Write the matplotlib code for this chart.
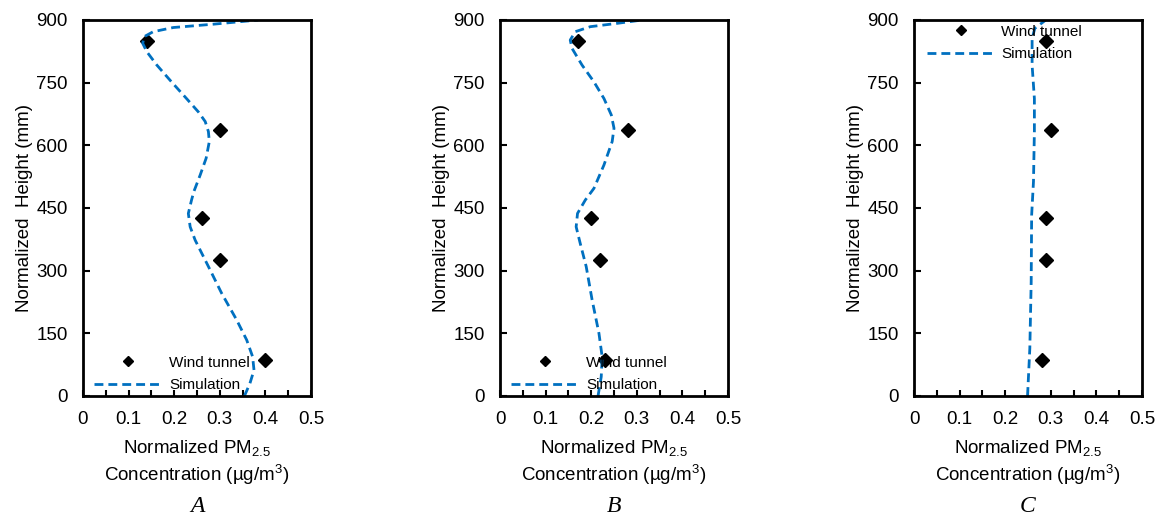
import matplotlib.pyplot as plt
from matplotlib.ticker import MultipleLocator, FuncFormatter

plt.rcParams['font.family'] = ['Liberation Sans', 'DejaVu Sans']
plt.rcParams['mathtext.fontset'] = 'custom'
plt.rcParams['mathtext.rm'] = 'Liberation Sans'
plt.rcParams['mathtext.it'] = 'Liberation Sans:italic'

# --------- DATA ----------
tunnel_h = [850, 637, 425, 325, 85]
tunnel_a = [0.14, 0.30, 0.26, 0.30, 0.40]
tunnel_b = [0.17, 0.28, 0.20, 0.22, 0.23]
tunnel_c = [0.29, 0.30, 0.29, 0.29, 0.28]

sim_a_h = [0, 30, 62, 94, 134, 182, 246, 310, 373, 405, 437, 469, 489, 529,
           569, 609, 633, 657, 680, 712, 752, 792, 824, 844, 860, 872, 882, 890, 900]
sim_a_x = [0.354, 0.366, 0.375, 0.372, 0.359, 0.337, 0.304, 0.275, 0.246, 0.235,
           0.231, 0.238, 0.243, 0.257, 0.270, 0.277, 0.275, 0.268, 0.253, 0.227,
           0.194, 0.162, 0.140, 0.131, 0.134, 0.154, 0.198, 0.286, 0.384]

sim_b_h = [0, 46, 94, 150, 230, 310, 365, 405, 437, 469, 497, 553, 609, 641,
           673, 712, 752, 792, 832, 852, 872, 884, 892, 900]
sim_b_x = [0.215, 0.222, 0.224, 0.217, 0.202, 0.189, 0.176, 0.167, 0.170, 0.187,
           0.206, 0.228, 0.246, 0.250, 0.244, 0.228, 0.206, 0.180, 0.158, 0.154,
           0.165, 0.198, 0.257, 0.312]

sim_c_h = [0, 114, 274, 433, 513, 633, 712, 792, 856, 880, 900]
sim_c_x = [0.249, 0.254, 0.257, 0.258, 0.262, 0.264, 0.264, 0.259, 0.259, 0.265, 0.289]

panels = [
    ("A", tunnel_a, sim_a_x, sim_a_h, "bottom"),
    ("B", tunnel_b, sim_b_x, sim_b_h, "bottom"),
    ("C", tunnel_c, sim_c_x, sim_c_h, "top"),
]

# --------- FIGURE ----------
fig = plt.figure(figsize=(11.59, 5.18), dpi=100)
lefts = [83, 500, 914]
W, H = 1159, 518

for (name, tx, sx, sh, legpos), lx in zip(panels, lefts):
    ax = fig.add_axes([lx / W, (518 - 396) / H, 228 / W, 376 / H])
    ax.plot(tx, tunnel_h, linestyle="none", marker="D", color="black",
            markersize=7, label="Wind tunnel")
    ax.plot(sx, sh, color="#0070C0", linewidth=2.0, dashes=(3.2, 1.8),
            label="Simulation")

    ax.set_xlim(0, 0.5)
    ax.set_ylim(0, 900)
    ax.xaxis.set_major_locator(MultipleLocator(0.1))
    ax.xaxis.set_minor_locator(MultipleLocator(0.05))
    ax.yaxis.set_major_locator(MultipleLocator(150))
    ax.xaxis.set_major_formatter(FuncFormatter(lambda v, p: "0" if abs(v) < 1e-9 else f"{v:.1f}"))
    ax.tick_params(axis="both", which="both", direction="in", labelsize=13.5,
                   width=1.5, length=4, top=False, right=False)
    ax.tick_params(axis="x", which="major", pad=11)
    ax.tick_params(axis="y", which="major", length=5, pad=11)
    for sp in ax.spines.values():
        sp.set_linewidth(2)

    ax.set_ylabel("Normalized  Height (mm)", fontsize=13.5, labelpad=2)
    ax.set_xlabel("Normalized PM$_{\\mathrm{2.5}}$\nConcentration (µg/m$^{\\mathrm{3}}$)",
                  fontsize=13.5, labelpad=7, linespacing=1.25)

    if legpos == "bottom":
        loc, anchor = "lower left", (0.05, 0.01)
    else:
        loc, anchor = "upper left", (0.055, 0.988)
    ax.legend(loc=loc, bbox_to_anchor=anchor, frameon=False, fontsize=11,
              handlelength=4.45, handletextpad=0.45, labelspacing=0.55,
              borderpad=0, borderaxespad=0, markerscale=0.7)

    fig.text((lx + 114) / W, 1 - 506 / H, name, fontsize=17, family="Liberation Serif",
             style="italic", ha="center", va="center")

fig.savefig("out.png", dpi=100)
